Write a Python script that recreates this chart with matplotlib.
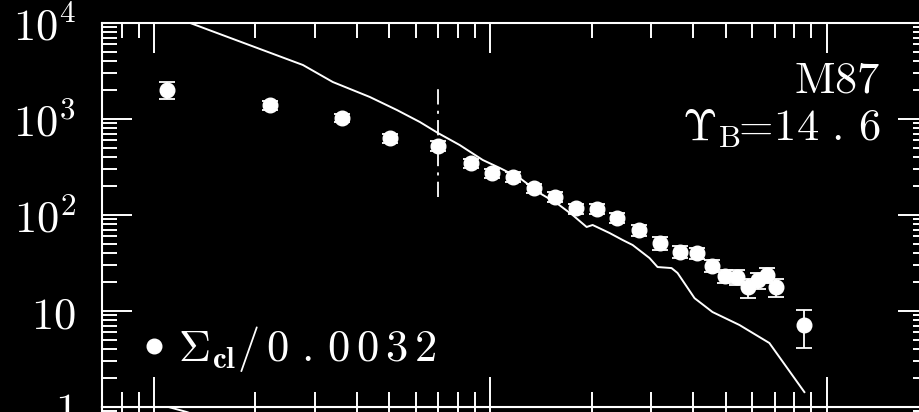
import numpy as np
import matplotlib
matplotlib.use("Agg")
import matplotlib.pyplot as plt
from matplotlib.ticker import FixedLocator, FuncFormatter, LogLocator, NullFormatter
from matplotlib.lines import Line2D

plt.rcParams["mathtext.fontset"] = "cm"
plt.rcParams["font.family"] = ["DejaVu Serif"]
plt.rcParams["lines.scale_dashes"] = False

# Globular-cluster surface density (scaled) vs. radius
radius = [1.09, 2.21, 3.61, 5.02, 6.99, 8.78, 10.1, 11.7, 13.5, 15.6, 18.0,
          20.7, 23.8, 27.6, 31.9, 36.5, 41.1, 45.5, 49.7, 54.0, 58.2, 62.3,
          66.5, 70.7, 85.4]
sigma_cl = [2005, 1400, 1030, 629, 527, 346, 272, 251, 190, 155, 117,
            116, 94, 70, 51, 41.5, 40, 29.6, 23.2, 22.8, 17.7, 21.0,
            23.7, 17.9, 7.15]
sigma_err = [400, 150, 110, 70, 60, 40, 30, 28, 22, 18, 14,
             14, 12, 9, 7.5, 5.5, 5.5, 4.2, 3.5, 4.0, 3.9, 4.0,
             4.3, 3.9, 3.0]

# Stellar light profile scaled by the mass-to-light ratio
model_r = [1.28, 2.77, 3.40, 4.38, 5.27, 6.17, 6.98, 8.10, 9.49, 10.66,
           12.22, 14.01, 15.74, 17.55, 19.32, 20.13, 22.61, 24.72, 26.47,
           29.72, 31.40, 34.55, 36.0, 40.45, 45.73, 55.0, 67.5, 85.8]
model_sigma = [10000, 3652, 2427, 1695, 1241, 930, 715, 536, 374, 309,
               243, 169, 133, 100, 75.0, 78.7, 64.9, 54.9, 48.7,
               35.6, 28.7, 28.0, 24.9, 13.6, 9.76, 7.15, 4.64, 1.43]

# Marker radius (dash-dot)
r_mark = 6.99
r_mark_lo, r_mark_hi = 154, 2100

# Next panel's profile (only its top edge shows)
next_r = [1.0, 1.25, 1.6]
next_sigma = [11000, 8870, 6500]

galaxy = r"$\mathrm{M87}$"
ml_label = r"$\Upsilon_{\mathrm{B}}\!\!=\!14\,\,.\,6$"
legend_label = r"$\Sigma_{\mathbf{cl}}/\,0\,\,.\,0\,0\,3\,2$"

W, H = 920, 412
fig = plt.figure(figsize=(W / 100, H / 100), dpi=100, facecolor="black")

left, right, top, bottom = 102, 928, 23, 407
ax_w = (right - left) / W
ax_h = (bottom - top) / H


def style(ax):
    ax.set_facecolor("black")
    ax.set_xscale("log")
    ax.set_yscale("log")
    ax.set_xlim(0.7, 200)
    ax.set_ylim(1, 1e4)
    for s in ax.spines.values():
        s.set_color("white")
        s.set_linewidth(1.5)
    ax.xaxis.set_major_locator(FixedLocator([1, 10, 100]))
    ax.xaxis.set_minor_locator(LogLocator(base=10, subs=np.arange(2, 10), numticks=20))
    ax.yaxis.set_major_locator(FixedLocator([1, 10, 100, 1000, 10000]))
    ax.yaxis.set_minor_locator(LogLocator(base=10, subs=np.arange(2, 10), numticks=20))
    ax.xaxis.set_minor_formatter(NullFormatter())
    ax.yaxis.set_minor_formatter(NullFormatter())
    ax.tick_params(which="both", direction="in", top=True, right=True,
                   colors="white", labelcolor="white", labelbottom=False)
    ax.tick_params(which="major", length=21.6, width=1.4, pad=18.7, labelsize=32)
    ax.tick_params(which="minor", length=10.8, width=1.4)


# lower panel (mostly outside the canvas)
ax2 = fig.add_axes([left / W, (H - bottom) / H - ax_h, ax_w, ax_h])
style(ax2)
ax2.tick_params(labelleft=False)
ax2.plot(next_r, next_sigma, color="white", lw=1.4)

# main panel
ax = fig.add_axes([left / W, (H - bottom) / H, ax_w, ax_h])
style(ax)


def ylab(v, pos):
    e = int(round(np.log10(v)))
    if e == 0:
        return r"$1$"
    if e == 1:
        return r"$10$"
    return r"$10^{%d}$" % e


ax.yaxis.set_major_formatter(FuncFormatter(ylab))

ax.plot(model_r, model_sigma, color="white", lw=1.4, zorder=2)
ax.vlines(r_mark, r_mark_lo, r_mark_hi, color="white", lw=1.3,
          linestyles=[(0, (11, 4.5, 2.2, 4.5))], zorder=2)
ax.errorbar(radius, sigma_cl, yerr=sigma_err, fmt="o", color="white",
            mfc="white", mec="white", ms=10.5, capsize=5.8, elinewidth=1.3,
            capthick=1.3, zorder=3)

ax.text(0.9419, 0.8203, galaxy, transform=ax.transAxes, ha="right",
        va="baseline", color="white", fontsize=32)
ax.text(0.9419, 0.695, ml_label, transform=ax.transAxes, ha="right",
        va="baseline", color="white", fontsize=32)

handle = Line2D([], [], marker="o", ls="none", color="white", ms=10.5)
ax.legend(handles=[handle], labels=[legend_label], loc="lower left",
          bbox_to_anchor=(0.0468, 0.085), frameon=False, handlelength=0.6,
          handletextpad=0.25, borderpad=0, borderaxespad=0, fontsize=32,
          labelcolor="white")

fig.savefig("out.png", dpi=100, facecolor="black")
